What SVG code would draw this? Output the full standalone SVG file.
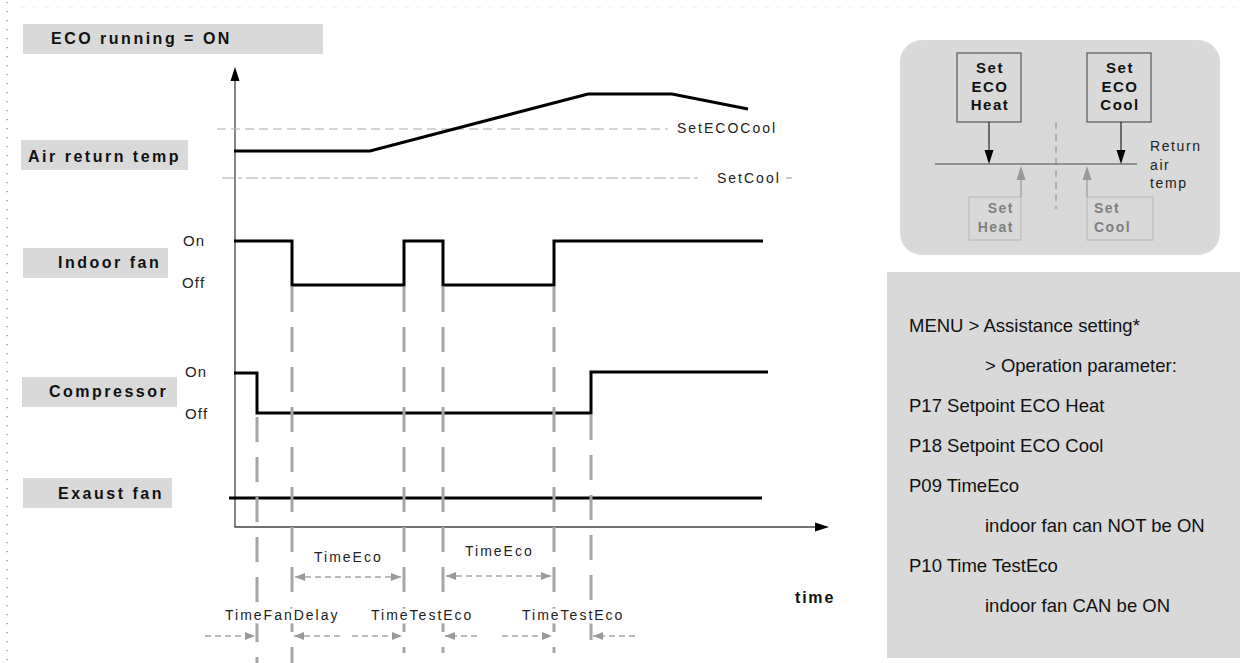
<svg xmlns="http://www.w3.org/2000/svg" width="1242" height="663" viewBox="0 0 1242 663">
<defs>
<style>
.lbl{font-family:"Liberation Sans",Arial,sans-serif;font-weight:bold;font-size:16px;letter-spacing:2.5px;fill:#111}
.box{fill:#d9d9d9}
.sm{font-family:"Liberation Sans",Arial,sans-serif;font-size:14px;letter-spacing:2px;fill:#222}
.halo{stroke:#fff;stroke-width:7px;stroke-linejoin:round;paint-order:stroke}
.onoff{font-family:"Liberation Sans",Arial,sans-serif;font-size:15px;letter-spacing:1.2px;fill:#222}
.sig{fill:none;stroke:#000;stroke-width:3;stroke-linejoin:miter}
.vd{fill:none;stroke:#a6a6a6;stroke-width:3;stroke-dasharray:25 15}
.dim{fill:none;stroke:#a6a6a6;stroke-width:1.3;stroke-dasharray:6 4}
.ref{fill:none;stroke:#aaa;stroke-width:1.2}
.menu{font-family:"Liberation Sans",Arial,sans-serif;font-size:18.5px;fill:#111}
.bx{font-family:"Liberation Sans",Arial,sans-serif;font-weight:bold;font-size:15px;letter-spacing:1.5px;fill:#111;text-anchor:middle}
.gx{font-family:"Liberation Sans",Arial,sans-serif;font-weight:bold;font-size:14px;letter-spacing:1.5px;fill:#7f7f7f}
.rt{font-family:"Liberation Sans",Arial,sans-serif;font-size:14px;letter-spacing:1.6px;fill:#222}
</style>
<marker id="ga" viewBox="0 0 10 8" refX="10" refY="4" markerWidth="10" markerHeight="8" markerUnits="userSpaceOnUse" orient="auto-start-reverse">
<path d="M0,0 L10,4 L0,8 Z" fill="#999"/>
</marker>
</defs>
<rect width="1242" height="663" fill="#fff"/>
<line x1="7" y1="2" x2="7" y2="663" stroke="#999" stroke-width="1.5" stroke-dasharray="1.2 7.8"/>
<line x1="20" y1="7" x2="1242" y2="7" stroke="#f4f0e2" stroke-width="1" stroke-dasharray="6 6"/>

<g id="title">
<rect class="box" x="23" y="24" width="300" height="30"/>
<text class="lbl" x="51" y="44">ECO running = ON</text>
</g>
<g id="air-return-label">
<rect class="box" x="21" y="140" width="167" height="30"/>
<text class="lbl" x="28" y="162">Air return temp</text>
</g>
<g id="indoor-fan-label">
<rect class="box" x="23" y="248" width="145" height="30"/>
<text class="lbl" x="58" y="268">Indoor fan</text>
<text class="onoff" x="183" y="246">On</text>
<text class="onoff" x="182" y="288">Off</text>
</g>
<g id="compressor-label">
<rect class="box" x="22" y="377" width="155" height="30"/>
<text class="lbl" x="49" y="397">Compressor</text>
<text class="onoff" x="185" y="377">On</text>
<text class="onoff" x="185" y="419">Off</text>
</g>
<g id="exaust-fan-label">
<rect class="box" x="23" y="478" width="149" height="30"/>
<text class="lbl" x="58" y="499">Exaust fan</text>
</g>

<g id="axes">
<line x1="235" y1="527" x2="235" y2="80" stroke="#444" stroke-width="1.3"/>
<path d="M235,67 L239.5,81 L230.5,81 Z" fill="#000"/>
<line x1="234.5" y1="527" x2="815" y2="527" stroke="#444" stroke-width="1.3"/>
<path d="M829,527 L815,522.5 L815,531.5 Z" fill="#000"/>
<text x="795" y="603" font-family="Liberation Sans,Arial,sans-serif" font-weight="bold" font-size="16" letter-spacing="1.8" fill="#111">time</text>
</g>

<g id="setpoints">
<line class="ref" x1="217" y1="129" x2="668" y2="129" stroke-dasharray="9 5"/>
<text class="sm" x="677" y="133">SetECOCool</text>
<line class="ref" x1="222" y1="178" x2="700" y2="178" stroke-dasharray="12 4 4 4"/>
<text class="sm" x="717" y="183">SetCool</text>
<line class="ref" x1="786" y1="178" x2="792" y2="178"/>
</g>

<g id="signals">
<polyline class="sig" points="234,151 370,151 588,94 672,94 748,109"/>
<polyline class="sig" points="234,241 292,241 292,285 404,285 404,241 443,241 443,285 554,285 554,241 763,241"/>
<polyline class="sig" points="234,373 257,373 257,413 591,413 591,372 768,372" stroke-width="2.6"/>
<line class="sig" x1="229" y1="498" x2="762" y2="498"/>
</g>

<g id="connectors">
<line class="vd" x1="257" y1="415" x2="257" y2="663" stroke-dashoffset="-2"/>
<line class="vd" x1="292" y1="287" x2="292" y2="663"/>
<line class="vd" x1="404" y1="287" x2="404" y2="653"/>
<line class="vd" x1="443" y1="287" x2="443" y2="653"/>
<line class="vd" x1="554" y1="287" x2="554" y2="653"/>
<line class="vd" x1="591" y1="415" x2="591" y2="653"/>

<line class="dim" x1="295" y1="577" x2="401" y2="577" marker-start="url(#ga)" marker-end="url(#ga)"/>
<line class="dim" x1="446" y1="576" x2="551" y2="576" marker-start="url(#ga)" marker-end="url(#ga)"/>

<line class="dim" x1="205" y1="636" x2="255" y2="636" marker-end="url(#ga)"/>
<line class="dim" x1="340" y1="636" x2="294" y2="636" marker-end="url(#ga)"/>
<line class="dim" x1="352" y1="636" x2="402" y2="636" marker-end="url(#ga)"/>
<line class="dim" x1="477" y1="636" x2="445" y2="636" marker-end="url(#ga)"/>
<line class="dim" x1="502" y1="636" x2="552" y2="636" marker-end="url(#ga)"/>
<line class="dim" x1="635" y1="636" x2="593" y2="636" marker-end="url(#ga)"/>
</g>

<g id="time-labels">
<text class="sm" x="314" y="562">TimeEco</text>
<text class="sm" x="465" y="556">TimeEco</text>
<text class="sm halo" x="225" y="620">TimeFanDelay</text>
<text class="sm halo" x="371" y="620">TimeTestEco</text>
<text class="sm halo" x="522" y="620">TimeTestEco</text>
</g>

<g id="setpoint-panel">
<rect x="900" y="40" width="320" height="215" rx="22" fill="#d9d9d9"/>
<line x1="1056" y1="122" x2="1056" y2="209" stroke="#888" stroke-width="1" stroke-dasharray="7 5"/>
<line x1="935" y1="164" x2="1137" y2="164" stroke="#777" stroke-width="1.5"/>
<g id="set-eco-heat">
<rect x="957" y="53" width="64" height="69" fill="#d9d9d9" stroke="#555" stroke-width="1.2"/>
<text class="bx" x="990" y="73">Set</text>
<text class="bx" x="990" y="92">ECO</text>
<text class="bx" x="990" y="110">Heat</text>
</g>
<g id="set-eco-cool">
<rect x="1087" y="53" width="64" height="69" fill="#d9d9d9" stroke="#555" stroke-width="1.2"/>
<text class="bx" x="1120" y="73">Set</text>
<text class="bx" x="1120" y="92">ECO</text>
<text class="bx" x="1120" y="110">Cool</text>
</g>
<g id="set-heat">
<rect x="969" y="197" width="52" height="43" fill="#d9d9d9" stroke="#bdbdbd" stroke-width="1.2"/>
<text class="gx" x="1014" y="213" text-anchor="end">Set</text>
<text class="gx" x="1014" y="232" text-anchor="end">Heat</text>
</g>
<g id="set-cool">
<rect x="1087" y="197" width="66" height="43" fill="#d9d9d9" stroke="#bdbdbd" stroke-width="1.2"/>
<text class="gx" x="1094" y="213">Set</text>
<text class="gx" x="1094" y="232">Cool</text>
</g>
<g id="panel-arrows">
<line x1="989" y1="122" x2="989" y2="151" stroke="#222" stroke-width="1.2"/>
<path d="M989,164 L984.5,150 L993.5,150 Z" fill="#000"/>
<line x1="1121" y1="122" x2="1121" y2="151" stroke="#222" stroke-width="1.2"/>
<path d="M1121,164 L1116.5,150 L1125.5,150 Z" fill="#000"/>
<line x1="1021" y1="197" x2="1021" y2="179" stroke="#999" stroke-width="1.2"/>
<path d="M1021,166 L1016.5,180 L1025.5,180 Z" fill="#999"/>
<line x1="1087" y1="197" x2="1087" y2="179" stroke="#999" stroke-width="1.2"/>
<path d="M1087,166 L1082.5,180 L1091.5,180 Z" fill="#999"/>
</g>
<text class="rt" x="1150" y="151">Return</text>
<text class="rt" x="1150" y="170">air</text>
<text class="rt" x="1150" y="188">temp</text>
</g>

<g id="menu-panel">
<rect x="887" y="272" width="353" height="386" fill="#d9d9d9"/>
<text class="menu" x="909" y="332">MENU &gt; Assistance setting*</text>
<text class="menu" x="985" y="372">&gt; Operation parameter:</text>
<text class="menu" x="909" y="412">P17 Setpoint ECO Heat</text>
<text class="menu" x="909" y="452">P18 Setpoint ECO Cool</text>
<text class="menu" x="909" y="492">P09 TimeEco</text>
<text class="menu" x="985" y="532">indoor fan can NOT be ON</text>
<text class="menu" x="909" y="572">P10 Time TestEco</text>
<text class="menu" x="985" y="612">indoor fan CAN be ON</text>
</g>
</svg>
